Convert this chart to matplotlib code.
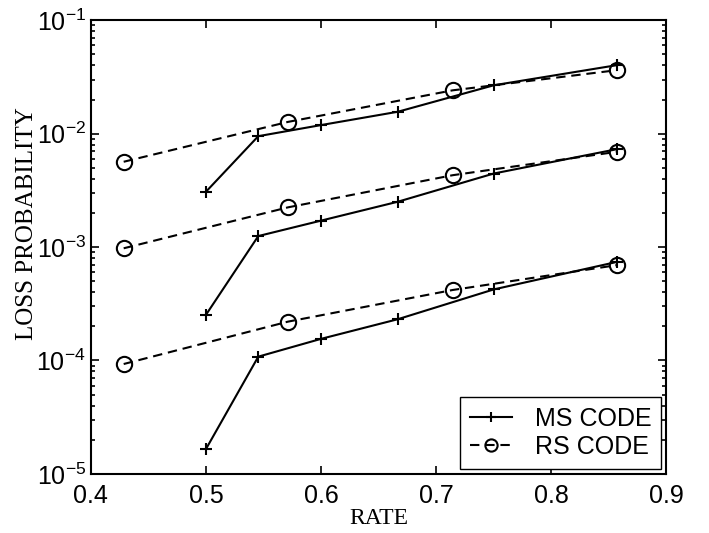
import matplotlib
matplotlib.use('Agg')
import matplotlib.pyplot as plt

plt.rcParams['font.family'] = 'Liberation Sans'
plt.rcParams['mathtext.default'] = 'regular'

# rates
ms_rate = [0.5, 0.5455, 0.6, 0.6667, 0.75, 0.8571]
rs_rate = [0.4286, 0.5714, 0.7143, 0.8571]

# loss probability, three groups (top, middle, bottom)
ms_loss = [
    [3.07e-3, 9.5e-3, 1.19e-2, 1.56e-2, 2.67e-2, 4.02e-2],
    [2.52e-4, 1.25e-3, 1.71e-3, 2.51e-3, 4.45e-3, 7.3e-3],
    [1.65e-5, 1.08e-4, 1.55e-4, 2.31e-4, 4.23e-4, 7.4e-4],
]
rs_loss = [
    [5.65e-3, 1.27e-2, 2.41e-2, 3.63e-2],
    [9.75e-4, 2.24e-3, 4.3e-3, 6.92e-3],
    [9.3e-5, 2.2e-4, 4.18e-4, 6.93e-4],
]

fig = plt.figure(figsize=(7.09, 5.33), dpi=100)
ax = fig.add_axes([0.128, 0.111, 0.812, 0.851])

for i in range(3):
    ax.plot(ms_rate, ms_loss[i], 'k-+', lw=1.5, ms=9, mew=1.5,
            label='MS CODE' if i == 0 else None)
    ax.plot(rs_rate, rs_loss[i], 'k--o', lw=1.5, ms=11, mew=1.5,
            mfc='none', dashes=(4.5, 2.8),
            label='RS CODE' if i == 0 else None)

ax.set_yscale('log')
ax.set_xlim(0.4, 0.9)
ax.set_ylim(1e-5, 1e-1)
ax.set_xticks([0.4, 0.5, 0.6, 0.7, 0.8, 0.9])
ax.set_xticklabels(['0.4', '0.5', '0.6', '0.7', '0.8', '0.9'])

ax.tick_params(which='both', direction='in', top=True, right=True,
               labelsize=18, width=1.2)
ax.tick_params(which='major', length=6)
ax.tick_params(which='minor', length=3)
ax.tick_params(axis='x', pad=7)
for s in ax.spines.values():
    s.set_linewidth(1.5)

ax.set_xlabel('RATE', family='Liberation Serif', fontsize=17, labelpad=0)
ax.set_ylabel('LOSS PROBABILITY', family='Liberation Serif', fontsize=18)
ax.yaxis.set_label_coords(-0.092, 0.552)

leg = ax.legend(loc='lower right', fontsize=18, frameon=True, fancybox=False,
                edgecolor='k', framealpha=1, handlelength=1.7,
                borderpad=0.4, labelspacing=0.15, handletextpad=0.9,
                borderaxespad=0.2, markerscale=0.8)
leg.get_frame().set_linewidth(1.0)

fig.savefig('out.png', dpi=100)
